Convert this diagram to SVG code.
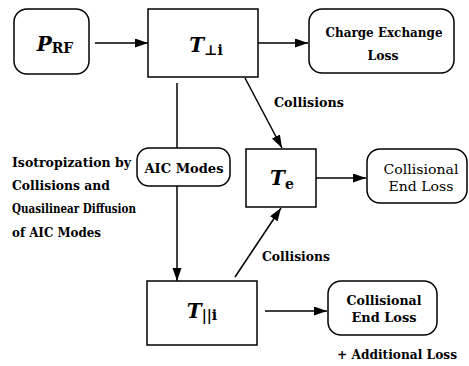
<svg xmlns="http://www.w3.org/2000/svg" width="469" height="366" viewBox="0 0 469 366">
<defs>
<style>
.box{fill:#fff;stroke:#000;stroke-width:1.5}
.ln{stroke:#000;stroke-width:1.5;fill:none}
.arr{marker-end:url(#ah)}
text{font-family:"DejaVu Serif",serif;font-weight:bold;font-size:13.5px;fill:#000}
.c{text-anchor:middle}
.reg{font-weight:normal}
.T{font-style:italic;font-size:20px;text-anchor:middle}
.sub{font-size:14px;font-style:normal}
</style>
<marker id="ah" markerUnits="userSpaceOnUse" markerWidth="14" markerHeight="10" refX="13" refY="4.5" orient="auto">
<path d="M0,0 L13,4.5 L0,9 z" fill="#000"/>
</marker>
</defs>
<rect width="469" height="366" fill="#fff"/>
<g id="connectors">
<line class="ln arr" x1="95" y1="43" x2="148" y2="43"/>
<line class="ln arr" x1="258" y1="43" x2="308" y2="43"/>
<line class="ln arr" x1="177" y1="83" x2="177" y2="281"/>
<line class="ln arr" x1="245" y1="78" x2="282" y2="148"/>
<line class="ln arr" x1="235" y1="277" x2="281" y2="208"/>
<line class="ln arr" x1="316" y1="178" x2="366" y2="178"/>
<line class="ln arr" x1="265" y1="311" x2="327" y2="311"/>
<text x="274" y="107" textLength="70" lengthAdjust="spacingAndGlyphs">Collisions</text>
<text x="262" y="261" textLength="68" lengthAdjust="spacingAndGlyphs">Collisions</text>
</g>
<g id="prf">
<rect class="box" x="14" y="9" width="75" height="65" rx="13"/>
<text x="55" y="51" class="T" font-size="21px">P<tspan class="sub" dy="2">RF</tspan></text>
</g>
<g id="tperp">
<rect class="box" x="148" y="9" width="110" height="68"/>
<text x="206" y="52" class="T">T<tspan class="sub" dy="3">⊥i</tspan></text>
</g>
<g id="cx">
<rect class="box" x="309" y="9" width="145" height="64" rx="13"/>
<text x="384" y="37" class="c" textLength="117" lengthAdjust="spacingAndGlyphs">Charge Exchange</text>
<text x="383" y="60" class="c" textLength="31" lengthAdjust="spacingAndGlyphs">Loss</text>
</g>
<g id="aic">
<rect class="box" x="137" y="148" width="93" height="38" rx="12"/>
<text x="184" y="173" class="c" textLength="79" lengthAdjust="spacingAndGlyphs">AIC Modes</text>
</g>
<g id="iso">
<text x="12" y="167" textLength="119" lengthAdjust="spacingAndGlyphs">Isotropization  by</text>
<text x="12" y="190" textLength="98" lengthAdjust="spacingAndGlyphs">Collisions and</text>
<text x="12" y="213" textLength="124" lengthAdjust="spacingAndGlyphs">Quasilinear Diffusion</text>
<text x="12" y="237" textLength="89" lengthAdjust="spacingAndGlyphs">of AIC Modes</text>
</g>
<g id="te">
<rect class="box" x="246" y="149" width="70" height="58"/>
<text x="282" y="185" class="T">T<tspan class="sub" dy="4" font-size="16px">e</tspan></text>
</g>
<g id="cel1">
<rect class="box" x="367" y="149" width="100" height="54" rx="13"/>
<text x="421" y="174" class="c reg" textLength="75" lengthAdjust="spacingAndGlyphs">Collisional</text>
<text x="421" y="191" class="c reg" textLength="65" lengthAdjust="spacingAndGlyphs">End Loss</text>
</g>
<g id="tpar">
<rect class="box" x="147" y="281" width="110" height="64"/>
<text x="202" y="318" class="T">T<tspan class="sub" dy="2">||i</tspan></text>
</g>
<g id="cel2">
<rect class="box" x="328" y="281" width="109" height="54" rx="13"/>
<text x="384" y="305" class="c" textLength="75" lengthAdjust="spacingAndGlyphs">Collisional</text>
<text x="384" y="322" class="c" textLength="65" lengthAdjust="spacingAndGlyphs">End Loss</text>
<text x="337" y="359" textLength="120" lengthAdjust="spacingAndGlyphs">+  Additional Loss</text>
</g>
</svg>
